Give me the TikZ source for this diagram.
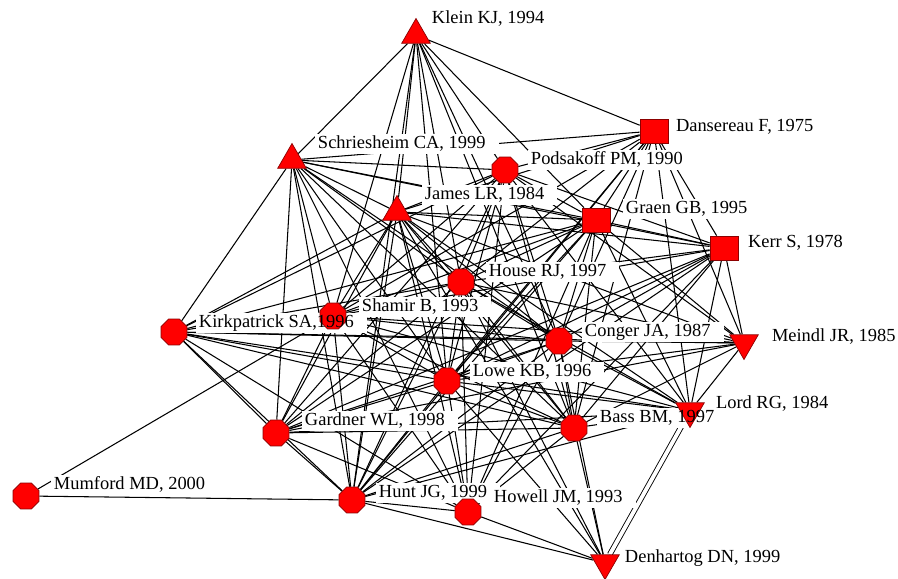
\documentclass[tikz,border=0pt]{standalone}
\usepackage{fontspec}
\setmainfont{Liberation Serif}
\usetikzlibrary{shapes.geometric}
\pgfdeclarelayer{edgelayer}
\pgfdeclarelayer{boxlayer}
\pgfdeclarelayer{textlayer}
\pgfsetlayers{edgelayer,boxlayer,main,textlayer}
\tikzset{
    octnode/.style = {regular polygon, regular polygon sides=8, minimum size=5.6mm, inner sep=0pt, draw=red!55!black, fill=red},
    trinode/.style = {regular polygon, regular polygon sides=3, minimum size=6.6mm, inner sep=0pt, draw=red!55!black, fill=red},
    trinodeinv/.style = {trinode, shape border rotate=180},
    sqnode/.style = {rectangle, minimum width=5.6mm, minimum height=4.8mm, inner sep=0pt, draw=red!55!black, fill=red},
    lbl/.style = {anchor=west, inner xsep=1.5pt, inner ysep=1pt, text height=7.4pt, text depth=2pt, font=\fontsize{10.5}{12}\selectfont},
    edgen/.style = {-, line width=0.6pt, black},
    edged/.style = {-, line width=0.5pt, black, double, double distance=2.2pt},
}

\begin{document}
\begin{tikzpicture}[x=0.2mm,y=-0.2mm]
\path[use as bounding box] (0,0) rectangle (898,578);
%
\node[trinode] at (416,35) (klein) {};
\node[trinode] at (292,160) (schr) {};
\node[trinode] at (397,212) (james) {};
\node[sqnode] at (654,131) (dans) {};
\node[sqnode] at (596,220) (graen) {};
\node[sqnode] at (724,248) (kerr) {};
\node[octnode] at (505,170) (pods) {};
\node[octnode] at (461,282) (house) {};
\node[octnode] at (333,316) (shamir) {};
\node[octnode] at (174,332) (kirk) {};
\node[octnode] at (559,341) (conger) {};
\node[octnode] at (447,381) (lowe) {};
\node[octnode] at (574,428) (bass) {};
\node[octnode] at (276,433) (gard) {};
\node[octnode] at (26,496) (mum) {};
\node[octnode] at (352,500) (hunt) {};
\node[octnode] at (468,512) (howell) {};
\node[trinodeinv] at (744,343) (meindl) {};
\node[trinodeinv] at (690,411) (lord) {};
\node[trinodeinv] at (605,563) (denh) {};
%
\begin{pgfonlayer}{textlayer}
\node[lbl] at (429,19) (klein-l) {Klein KJ, 1994};
\node[lbl] at (315,144) (schr-l) {Schriesheim CA, 1999};
\node[lbl] at (422,195) (james-l) {James LR, 1984};
\node[lbl] at (673,127) (dans-l) {Dansereau F, 1975};
\node[lbl] at (623,209) (graen-l) {Graen GB, 1995};
\node[lbl] at (745,243) (kerr-l) {Kerr S, 1978};
\node[lbl] at (528,160) (pods-l) {Podsakoff PM, 1990};
\node[lbl] at (486,272) (house-l) {House RJ, 1997};
\node[lbl] at (359,307) (shamir-l) {Shamir B, 1993};
\node[lbl] at (196,323) (kirk-l) {Kirkpatrick SA,1996};
\node[lbl] at (582,332) (conger-l) {Conger JA, 1987};
\node[lbl] at (470,372) (lowe-l) {Lowe KB, 1996};
\node[lbl] at (597,418) (bass-l) {Bass BM, 1997};
\node[lbl] at (302,421) (gard-l) {Gardner WL, 1998};
\node[lbl] at (51,485) (mum-l) {Mumford MD, 2000};
\node[lbl] at (376,493) (hunt-l) {Hunt JG, 1999};
\node[lbl] at (491,498) (howell-l) {Howell JM, 1993};
\node[lbl] at (769,337) (meindl-l) {Meindl JR, 1985};
\node[lbl] at (713,404) (lord-l) {Lord RG, 1984};
\node[lbl] at (622,558) (denh-l) {Denhartog DN, 1999};
\end{pgfonlayer}
%
\begin{pgfonlayer}{boxlayer}
\foreach \n in {klein,schr,james,dans,graen,kerr,pods,house,shamir,kirk,conger,lowe,bass,gard,mum,hunt,howell,meindl,lord,denh}
    \fill[white] (\n-l.south west) rectangle ([xshift=2mm]\n-l.north east);
\end{pgfonlayer}
%
\begin{pgfonlayer}{edgelayer}
\draw[edgen] (klein) edge (schr) edge (dans) edge (shamir) edge (james) edge (hunt) edge (lowe) edge (house) edge (conger) edge (bass) edge (pods) edge (graen);
\draw[edgen] (schr) edge (kirk) edge (pods) edge (james) edge (house) edge (shamir) edge (gard) edge (hunt) edge (lowe) edge (conger) edge (graen) edge (kerr) edge (bass) edge (howell) edge (dans);
\draw[edgen] (dans) edge (pods) edge (graen) edge (kerr) edge (conger) edge (house) edge (james) edge (meindl) edge (lord) edge (bass) edge (lowe) edge (shamir) edge (hunt);
\draw[edgen] (pods) edge (graen) edge (kerr) edge (house) edge (james) edge (conger) edge (lowe) edge (bass) edge (meindl) edge (lord) edge (shamir) edge (hunt) edge (gard) edge (howell);
\draw[edgen] (james) edge (graen) edge (kerr) edge (house) edge (shamir) edge (kirk) edge (lowe) edge (conger) edge (bass) edge (meindl) edge (hunt) edge (gard) edge (howell) edge (lord) edge (denh);
\draw[edgen] (graen) edge (kerr) edge (house) edge (shamir) edge (conger) edge (lowe) edge (bass) edge (meindl) edge (lord) edge (hunt) edge (gard) edge (howell) edge (kirk);
\draw[edgen] (kerr) edge (house) edge (conger) edge (lowe) edge (bass) edge (meindl) edge (lord) edge (shamir) edge (hunt) edge (gard) edge (howell);
\draw[edgen] (house) edge (shamir) edge (conger) edge (lowe) edge (bass) edge (meindl) edge (lord) edge (hunt) edge (gard) edge (howell) edge (denh) edge (kirk);
\draw[edgen] (shamir) edge (conger) edge (lowe) edge (bass) edge (gard) edge (hunt) edge (howell) edge (meindl) edge (lord) edge (mum);
\draw[edgen] (kirk) edge (conger) edge (meindl) edge (lowe) edge (bass) edge (lord) edge (gard) edge (hunt) edge (howell) edge (pods);
\draw[edgen] (conger) edge (lowe) edge (bass) edge (meindl) edge (lord) edge (hunt) edge (gard) edge (howell) edge (denh);
\draw[edgen] (lowe) edge (bass) edge (meindl) edge (lord) edge (hunt) edge (gard) edge (howell) edge (denh);
\draw[edgen] (bass) edge (meindl) edge (lord) edge (hunt) edge (gard) edge (howell) edge (denh);
\draw[edgen] (lord) edge (meindl) edge (hunt) edge (gard);
\draw[edged] (lord) -- (denh);
\draw[edgen] (gard) edge (hunt) edge (howell) edge (meindl);
\draw[edgen] (hunt) edge (howell) edge (denh) edge (mum);
\draw[edgen] (howell) edge (denh);
\end{pgfonlayer}

\end{tikzpicture}
\end{document}
